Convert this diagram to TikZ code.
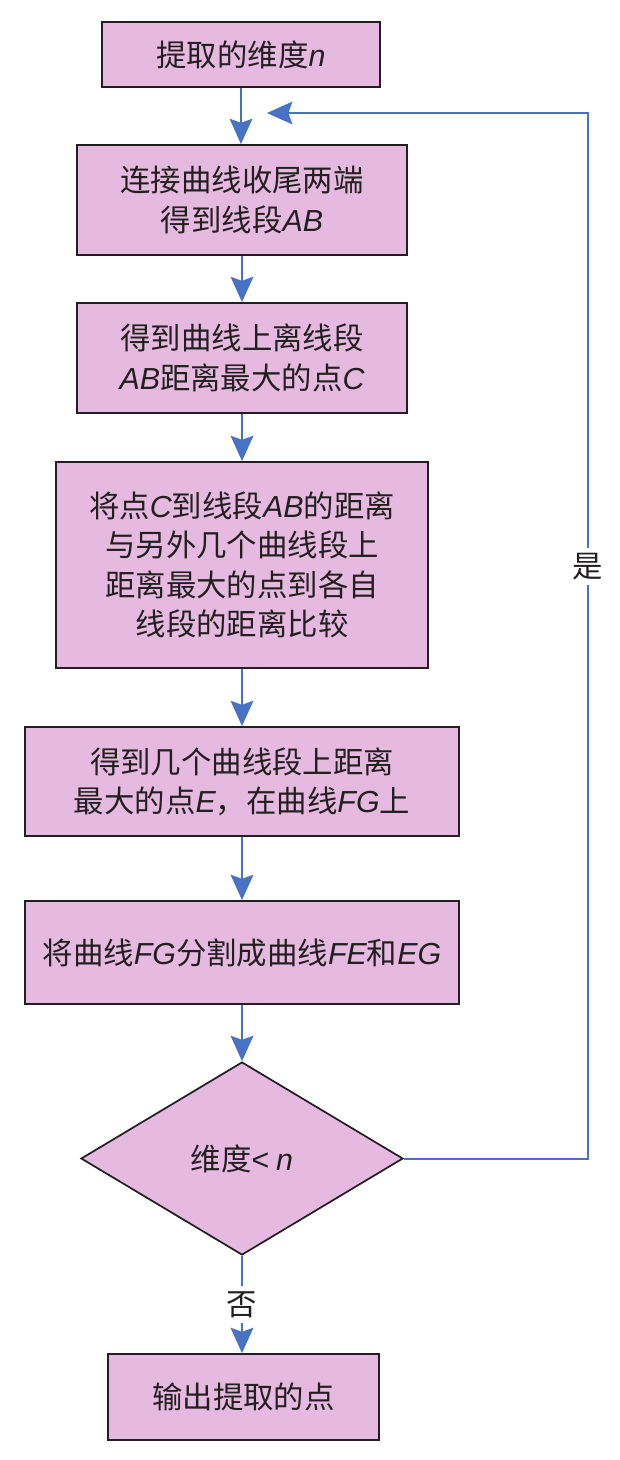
\documentclass[tikz,border=0pt]{standalone}
\usepackage{fontspec}
\setmainfont{Liberation Sans}
\newfontfamily\cjk{Noto Sans CJK SC}
\newfontfamily\lat{Liberation Sans}
\newcommand{\emvar}[1]{{\lat\itshape #1}}
\usepackage{tikz}
\usetikzlibrary{arrows.meta}
\usetikzlibrary{shapes.geometric}
\usetikzlibrary{positioning}
\definecolor{flowblue}{RGB}{72,114,196}
\definecolor{flowpink}{RGB}{230,186,224}
\definecolor{flowink}{RGB}{35,31,32}

\begin{document}
\begin{tikzpicture}
	[
	x=0.75pt, y=-0.75pt,
	> = {Stealth[width=17pt,length=19pt,inset=3pt]},
	every node/.style = {font=\cjk\fontsize{22.8}{29.5}\selectfont, text=flowink},
	box/.style = {draw=flowink, line width=1.3pt, fill=flowpink, align=center, inner sep=0pt},
	test/.style = {box, diamond},
	flow/.style = {->, draw=flowblue, line width=1.5pt},
	answer/.style = {fill=white, inner sep=4pt}
	]
	\useasboundingbox (0,0) rectangle (620,1460);
	\node[box, minimum width=208.5pt, minimum height=48.75pt] (dim) at (241,54.5) {提取的维度\emvar{n}};
	\node[box, minimum width=247.5pt, minimum height=82.5pt] (link) at (242,200) {连接曲线收尾两端\\得到线段\emvar{AB}};
	\node[box, minimum width=247.5pt, minimum height=82.5pt] (far) at (242,358) {得到曲线上离线段\\\emvar{AB}距离最大的点\emvar{C}};
	\node[box, minimum width=279pt, minimum height=154.5pt] (cmp) at (242,565) {将点\emvar{C}到线段\emvar{AB}的距离\\与另外几个曲线段上\\距离最大的点到各自\\线段的距离比较};
	\node[box, minimum width=325.5pt, minimum height=81.75pt] (pick) at (242,781.5) {得到几个曲线段上距离\\最大的点\emvar{E}，在曲线\emvar{FG}上};
	\node[box, minimum width=325.5pt, minimum height=77.25pt] (split) at (242,952.5) {将曲线\emvar{FG}分割成曲线\emvar{FE}和\emvar{EG}};
	\node[test, minimum width=241.5pt, minimum height=144.75pt] (check) at (242,1158.5) {维度{\lat<} \emvar{n}};
	\node[box, minimum width=203.25pt, minimum height=64.5pt] (out) at (243.5,1397) {输出提取的点};
	\coordinate (corner) at (588,1158.5);
	\coordinate (back) at (267,113);
	% main chain
	\draw[flow] (dim) -- (dim |- link.north);
	\draw[flow] (link) -- (far);
	\draw[flow] (far) -- (far |- cmp.north);
	\draw[flow] (cmp) -- (cmp |- pick.north);
	\draw[flow] (pick) -- (split);
	\draw[flow] (split) -- (check);
	\draw[flow] (check) -- node[answer] {否} (check |- out.north);
	% loop back
	\draw[flow] (check.east) -- (corner) -- node[answer, pos=0.566] {是} (corner |- back) -- (back);
\end{tikzpicture}
\end{document}
